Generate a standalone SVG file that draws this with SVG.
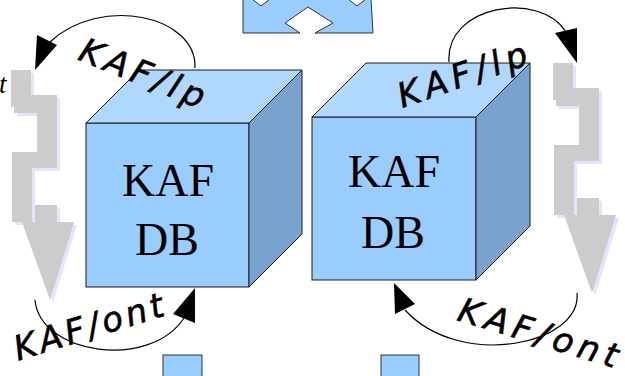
<svg xmlns="http://www.w3.org/2000/svg" width="625" height="376" viewBox="0 0 625 376">
<style>
.front{fill:#99ccff;stroke:#1a1a1a;stroke-width:1}
.top{fill:#b0d8ff;stroke:#1a1a1a;stroke-width:1}
.side{fill:#79a3cc;stroke:#1a1a1a;stroke-width:1}
.db{font-family:"Liberation Serif",serif;font-size:46px;fill:#000;text-anchor:middle}
.hand{font-family:"DejaVu Sans",sans-serif;font-style:italic;font-size:34px;fill:#000;stroke:#000;stroke-width:0.6;text-anchor:middle}
.arc{fill:none;stroke:#000;stroke-width:1.2}
.head{fill:#000}
.gray{fill:#cccccc}
.shadow{fill:#e4e4ff}
.blue{fill:#99ccff;stroke:#333;stroke-width:1}
</style>
<defs>
<g id="zz">
<rect x="0" y="0" width="20" height="37"/>
<rect x="3" y="25" width="43" height="18"/>
<rect x="26" y="43" width="20" height="55"/>
<rect x="2" y="82" width="32" height="16"/>
<rect x="1" y="82" width="20" height="70"/>
<rect x="24" y="135" width="22" height="20"/>
<polygon points="11,152 63,152 39,230"/>
</g>
</defs>
<g id="topshape">
<polygon class="blue" points="243,-1 252,-1 261,6 270,-1 348,-1 357,6 366,-1 371,-1 373,33 315,33 333,23 308,7 285,23 300,33 243,33"/>
</g>
<g id="leftzigzag">
<use href="#zz" class="shadow" x="14" y="73"/>
<use href="#zz" class="gray" x="11" y="70"/>
</g>
<g id="rightzigzag">
<use href="#zz" class="shadow" x="556" y="66"/>
<use href="#zz" class="gray" x="553" y="63"/>
</g>
<g id="cube1">
<rect class="front" x="86" y="123" width="163" height="164"/>
<polygon class="top" points="86,123 139,70 302,70 249,123"/>
<polygon class="side" points="249,123 302,70 302,234 249,287"/>
<text class="db" x="168" y="196">KAF</text>
<text class="db" x="167" y="255">DB</text>
</g>
<g id="cube2">
<rect class="front" x="312" y="117" width="164" height="163"/>
<polygon class="top" points="312,117 366,63 530,63 476,117"/>
<polygon class="side" points="476,117 530,63 530,226 476,280"/>
<text class="db" x="394" y="187">KAF</text>
<text class="db" x="393" y="248">DB</text>
</g>
<g id="box3"><rect class="blue" x="163" y="355" width="39" height="30"/></g>
<g id="box4"><rect class="blue" x="381" y="355" width="38" height="30"/></g>
<g id="edgetext">
<text x="-1" y="93" style="font-family:'Liberation Serif',serif;font-style:italic;font-size:27px">t</text>
</g>
<g id="connectors">
<path class="arc" d="M195,68 C197,15 100,-5 50,42"/>
<polygon class="head" points="37,35 57,45 35,70"/>
<path class="arc" d="M449,62 C445,5 540,-10 566,32"/>
<polygon class="head" points="555,33 577,28 577,63"/>
<path class="arc" d="M35,300 C40,355 150,370 184,318"/>
<polygon class="head" points="173,314 195,288 195,323"/>
<path class="arc" d="M577,293 C582,345 460,370 405,310"/>
<polygon class="head" points="394,283 395,314 415,304"/>
<text class="hand" transform="translate(138,84) rotate(22)" textLength="132" lengthAdjust="spacing">KAF/lp</text>
<text class="hand" transform="translate(466,86) rotate(-19)" textLength="135" lengthAdjust="spacing">KAF/lp</text>
<text class="hand" transform="translate(92,338) rotate(-17)" textLength="155" lengthAdjust="spacing">KAF/ont</text>
<text class="hand" transform="translate(535,344) rotate(17)" textLength="165" lengthAdjust="spacing">KAF/ont</text>
</g>
</svg>
